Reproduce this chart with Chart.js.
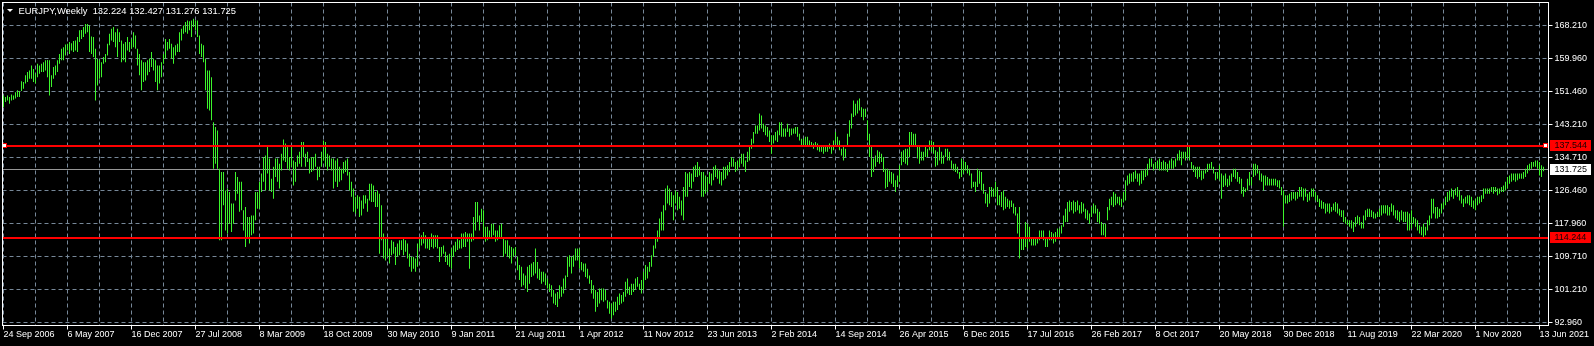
<!DOCTYPE html>
<html>
<head>
<meta charset="utf-8">
<title>EURJPY,Weekly</title>
<script src="https://cdn.jsdelivr.net/npm/chart.js@4.4.1/dist/chart.umd.min.js"></script>
<style>
  html, body { margin: 0; padding: 0; background: #000; overflow: hidden; }
  #chart { display: block; }
</style>
</head>
<body>
<canvas id="chart" width="1594" height="346"></canvas>
<script>
// EURJPY weekly bars

const symbolName = 'EURJPY,Weekly';
const lastBarOHLC = [132.224, 132.427, 131.276, 131.725];

// one date label every 32 weekly bars, bar 0 = 24 Sep 2006
const weekLabels = ['24 Sep 2006', '6 May 2007', '16 Dec 2007', '27 Jul 2008', '8 Mar 2009', '18 Oct 2009',
  '30 May 2010', '9 Jan 2011', '21 Aug 2011', '1 Apr 2012', '11 Nov 2012', '23 Jun 2013', '2 Feb 2014',
  '14 Sep 2014', '26 Apr 2015', '6 Dec 2015', '17 Jul 2016', '26 Feb 2017', '8 Oct 2017', '20 May 2018',
  '30 Dec 2018', '11 Aug 2019', '22 Mar 2020', '1 Nov 2020', '13 Jun 2021'];

const priceTicks = [168.21, 159.96, 151.46, 143.21, 134.71, 126.46, 117.96, 109.71, 101.21, 92.96];
const levelLines = [137.544, 114.244];
const bidPrice = 131.725;

const barHigh = [
  // 2006 - 2008
  150.5,150.1,150.5,150.1,150.7,150.5,151.3,151.8,151.6,154.1,
  153.9,155.6,156.4,156.8,158.1,157.2,156.0,158.5,158.1,158.5,
  158.9,159.4,159.5,159.4,155.6,157.7,158.1,159.4,161.0,162.3,
  162.7,163.4,163.6,164.0,163.7,164.3,164.4,165.3,167.0,167.1,
  167.8,168.6,168.6,168.2,165.4,165.3,162.3,159.8,159.4,158.9,
  160.2,161.0,163.6,166.1,167.4,167.8,166.5,167.4,166.5,164.4,
  163.6,164.0,165.3,164.0,164.8,166.5,165.7,162.3,161.0,159.4,
  158.9,158.9,159.4,159.8,161.5,159.8,159.4,158.1,158.1,158.9,
  161.0,164.8,164.0,164.8,163.6,162.7,163.2,163.6,166.5,167.4,
  168.2,169.1,169.5,169.3,169.5,169.9,169.5,169.5,165.7,163.6,
  163.2,159.8,156.8,156.8,155.1,143.7,142.5,141.6,131.9,131.1,
  // 2008 - 2010
  131.1,126.4,126.9,126.0,123.1,123.1,131.1,129.8,128.6,128.6,
  121.4,122.2,119.7,119.7,120.1,120.1,126.0,126.0,128.6,130.7,
  134.9,135.3,137.4,134.5,129.4,132.4,134.5,134.5,133.2,135.7,
  139.3,138.3,137.4,134.9,137.4,134.0,133.6,135.3,136.2,138.7,
  138.7,135.7,136.2,134.5,134.9,134.9,135.7,132.4,132.4,136.2,
  139.1,138.7,135.7,135.3,134.5,134.5,134.0,134.5,132.4,131.9,
  133.6,134.0,134.5,131.1,128.6,126.9,124.8,125.2,124.8,123.9,
  125.2,125.2,124.3,128.1,128.1,127.7,126.0,126.4,125.6,122.7,
  115.5,114.2,114.2,111.7,113.8,113.4,112.1,113.0,113.8,113.8,
  114.6,113.8,113.0,110.4,109.6,109.6,109.2,113.0,114.6,115.1,
  115.9,115.1,114.2,114.2,115.5,115.1,115.1,115.1,112.1,112.1,
  112.5,
  // 2010 - 2012
  110.9,110.0,110.4,111.7,112.5,113.4,114.2,113.8,115.5,115.5,
  115.9,115.5,115.5,115.5,119.7,123.5,123.5,120.1,121.8,121.4,
  117.2,117.2,116.3,118.0,118.0,116.3,116.3,117.6,118.0,114.6,
  113.8,113.8,112.5,112.1,111.7,112.1,109.6,107.5,107.1,105.4,
  104.9,107.1,107.5,107.9,108.3,111.7,108.3,106.6,105.8,105.8,
  105.4,104.1,102.8,102.4,101.2,100.3,100.7,102.4,102.0,104.1,
  104.9,109.6,110.0,109.6,110.0,111.7,111.7,111.7,108.3,107.9,
  107.9,106.6,104.9,103.7,102.4,101.2,100.7,101.6,101.6,101.6,
  101.2,98.6,98.2,97.8,98.2,98.2,99.5,100.3,99.9,100.7,
  103.3,104.1,102.0,102.8,102.8,104.1,104.5,102.8,103.7,105.8,
  107.5,107.1,108.3,110.0,112.5,114.6,116.3,119.3,121.0,122.7,126.9,
  // 2012 - 2015
  127.7,126.9,126.0,125.2,126.4,126.0,124.8,123.9,127.3,131.1,
  130.7,131.1,130.7,132.4,132.8,133.6,132.4,131.1,131.1,130.2,
  129.8,131.1,130.7,132.4,132.8,131.9,131.5,131.1,132.4,132.4,
  132.8,133.6,134.9,134.5,133.6,134.0,134.5,135.7,135.7,134.0,
  136.2,137.4,139.5,141.2,142.9,142.9,145.9,145.4,143.3,142.9,
  142.5,141.6,140.4,140.4,141.2,141.6,143.7,143.7,142.1,142.1,
  143.3,142.1,142.1,142.1,142.5,142.5,140.8,139.5,139.5,140.0,
  140.0,139.1,138.7,138.3,138.7,138.3,137.8,137.8,137.4,137.8,
  137.8,138.3,137.4,139.1,141.2,140.0,139.1,137.0,137.4,137.0,
  140.8,144.2,145.9,149.2,148.4,149.2,149.7,147.5,147.1,147.1,
  144.2,140.8,137.4,134.5,135.3,136.6,136.2,135.7,134.9,131.9,131.9,
  // 2015 - 2017
  131.5,131.1,130.7,129.0,130.2,132.8,136.2,136.6,137.0,137.0,
  141.2,141.2,140.8,140.8,137.8,137.4,136.2,136.2,137.4,137.0,
  139.1,139.1,138.7,136.6,136.2,137.4,136.2,135.3,137.0,137.0,
  136.2,134.0,133.2,133.2,132.4,131.1,134.5,134.0,133.6,132.8,
  131.9,130.7,128.6,128.6,131.9,131.5,131.1,128.1,126.0,125.6,
  127.3,127.3,126.9,128.6,127.3,125.2,126.0,126.4,124.8,124.3,
  123.9,123.9,123.1,122.2,120.6,122.2,114.6,114.6,118.4,118.0,
  117.2,114.6,114.2,114.6,114.6,116.3,116.3,116.3,114.2,114.6,
  116.3,115.9,115.5,115.9,116.8,116.8,117.6,120.1,121.8,123.5,
  123.9,123.5,123.9,123.5,123.9,122.7,123.5,123.1,121.8,121.4,
  120.6,122.2,123.1,122.7,121.8,121.0,118.4,118.0,118.0,122.2,124.3,
  // 2017 - 2019
  124.8,126.0,125.6,124.8,124.8,124.3,126.0,129.0,130.2,130.7,
  130.7,131.1,131.5,130.7,130.7,131.5,131.5,131.9,133.2,134.5,
  134.5,133.2,133.6,134.0,134.5,133.6,134.0,133.6,133.2,134.0,
  134.5,134.0,134.5,135.7,136.6,136.2,136.2,136.2,137.4,137.4,
  133.6,132.8,132.4,132.4,132.4,131.5,131.5,131.9,133.2,133.2,
  133.6,132.4,131.1,131.1,132.8,130.7,130.2,130.7,129.4,130.2,
  130.7,131.9,131.9,131.1,129.8,129.4,127.3,126.9,129.4,131.1,
  129.8,133.2,133.2,132.8,131.5,130.7,130.2,130.2,129.8,129.4,
  129.4,129.4,129.4,129.0,129.0,127.3,126.4,125.2,125.2,125.6,
  126.0,126.0,126.0,126.0,127.3,127.3,126.9,126.9,125.6,126.0,
  126.9,126.9,126.0,125.2,124.3,123.9,123.5,123.1,123.1,123.1,122.2,
  // 2019 - 2021
  123.1,123.5,123.1,121.8,121.4,121.4,119.7,118.9,118.9,118.9,
  118.4,119.7,120.1,119.7,118.4,120.1,121.4,121.8,121.8,121.4,
  121.0,120.6,121.0,121.8,122.7,122.7,122.7,122.7,122.2,123.1,
  122.7,121.4,121.4,121.0,121.4,121.0,121.0,121.0,120.6,121.4,
  119.7,119.3,118.9,117.6,117.2,118.0,117.2,118.9,120.1,124.3,
  124.3,122.2,122.2,121.8,123.1,123.5,124.8,126.0,126.4,126.9,
  126.4,126.9,127.3,126.4,125.2,124.3,124.8,125.2,125.2,124.8,
  123.9,124.3,124.8,124.8,125.2,126.9,126.9,126.9,126.9,127.3,
  127.3,127.3,126.9,126.9,127.3,127.7,128.6,129.8,130.2,130.7,
  130.7,130.7,130.7,130.7,130.7,131.1,131.9,132.8,133.2,133.6,
  133.6,134.0,134.0,133.6,132.8,132.427
];

const barLow = [
  // 2006 - 2008
  147.5,148.8,149.2,148.4,149.2,149.4,149.7,150.1,150.1,151.6,
  152.2,153.5,153.9,154.7,154.7,153.9,153.5,155.1,156.0,156.4,
  156.4,156.8,155.1,150.5,152.6,154.7,155.6,156.4,158.5,159.4,
  159.4,160.6,161.9,161.0,161.9,161.5,161.9,161.5,164.0,164.8,
  165.3,166.1,166.5,161.5,161.0,160.2,149.2,153.0,154.7,155.1,
  158.5,158.9,160.6,163.2,164.4,164.0,162.7,160.2,164.0,158.9,
  159.4,158.9,161.9,161.5,162.3,162.7,162.3,158.1,155.6,151.8,
  153.9,154.3,155.6,156.4,157.7,156.8,153.9,151.8,153.5,155.1,
  158.5,159.8,161.9,162.3,159.8,158.5,160.6,161.5,161.5,164.4,
  166.1,166.5,166.1,167.0,165.3,167.8,167.0,165.3,161.0,160.2,
  158.9,151.8,147.1,146.7,144.2,131.9,133.2,131.9,113.8,113.8,
  // 2008 - 2010
  122.7,116.3,115.5,118.0,115.9,118.0,123.9,125.6,121.0,121.4,
  116.3,112.1,114.6,113.0,115.1,115.5,118.9,121.8,121.8,126.0,
  128.6,126.4,130.7,126.4,126.0,124.3,129.8,128.6,126.9,131.5,
  134.0,133.6,131.9,131.5,132.4,127.7,128.6,132.4,133.2,132.4,
  134.9,132.4,133.6,130.7,131.1,131.5,132.4,129.0,129.8,132.4,
  134.0,132.4,131.5,132.4,131.5,126.9,128.6,127.3,128.6,129.0,
  130.7,131.1,130.2,126.4,124.8,121.0,120.6,121.8,119.7,120.1,
  121.8,123.1,121.0,123.9,123.5,123.5,122.2,122.2,110.4,113.8,
  109.2,108.7,109.6,107.9,110.0,110.4,107.5,109.6,110.0,111.3,
  110.0,110.9,109.2,107.1,105.8,106.6,105.8,107.1,111.7,112.5,
  113.0,111.7,111.7,111.3,112.1,111.7,112.1,111.7,108.3,109.6,
  110.4,
  // 2010 - 2012
  108.3,107.5,107.1,106.6,109.6,110.9,111.3,111.7,111.7,112.1,
  112.1,113.4,106.6,113.4,113.8,116.3,118.4,116.3,118.4,114.6,
  113.4,113.8,114.2,114.6,115.1,113.4,113.8,114.6,114.2,109.6,
  110.4,109.6,109.2,107.9,109.6,110.0,106.2,103.7,102.0,102.4,
  101.6,100.7,102.8,104.5,104.9,105.4,104.1,103.7,102.8,103.3,
  102.4,101.6,100.7,99.5,97.8,97.4,96.9,99.0,99.5,100.3,
  101.6,104.5,107.1,105.4,107.1,108.7,108.7,106.6,106.2,105.8,
  104.5,104.1,102.8,100.3,99.0,95.7,96.9,97.8,98.6,98.2,
  98.6,96.5,95.2,94.0,94.8,95.7,96.1,97.4,97.8,98.2,
  99.5,100.3,99.9,99.9,100.7,101.2,102.0,101.2,100.3,101.2,
  103.7,104.1,105.8,107.1,109.6,111.7,113.4,114.6,116.3,116.3,121.4,
  // 2012 - 2015
  123.1,122.7,122.2,118.9,123.1,121.4,121.8,120.1,118.9,124.8,
  124.8,127.3,126.9,128.6,129.8,129.8,130.2,124.8,124.8,125.6,
  126.0,128.1,127.7,129.0,129.8,129.4,128.1,127.7,129.0,129.4,
  130.2,131.1,132.4,132.4,131.1,131.5,132.4,133.2,132.4,131.1,
  133.6,134.0,137.0,138.3,140.8,140.8,141.6,142.1,141.2,140.4,
  140.0,138.7,135.7,138.3,139.1,138.7,140.4,140.0,140.0,140.0,
  141.2,140.0,140.4,140.8,140.8,140.0,139.1,137.8,137.8,137.4,
  137.8,137.8,137.4,137.0,137.4,136.6,136.2,136.2,135.7,136.2,
  136.2,137.0,135.7,136.6,138.3,137.4,136.6,135.3,134.0,134.9,
  137.4,140.0,142.1,145.0,145.4,145.9,146.7,145.0,144.2,145.0,
  139.1,134.9,129.8,131.1,132.4,133.6,133.2,133.6,131.1,126.9,127.3,
  // 2015 - 2017
  128.6,128.1,127.3,126.0,127.3,128.6,132.8,133.6,133.2,132.8,
  134.9,137.4,137.4,137.8,134.5,133.2,134.0,134.0,134.9,134.9,
  136.6,136.2,135.7,132.4,132.8,134.0,133.2,133.2,134.9,134.0,
  134.0,131.9,131.5,131.1,130.7,129.4,129.8,130.7,131.5,130.7,
  130.2,126.9,127.3,126.0,127.3,128.1,126.4,125.6,123.1,122.2,
  123.1,124.8,124.8,124.8,122.7,122.7,122.2,121.4,121.8,122.2,
  121.8,122.2,120.6,120.1,115.5,109.2,111.3,111.3,112.1,111.7,
  113.4,112.5,112.5,112.5,113.0,113.8,114.2,113.8,112.1,112.1,
  113.8,113.8,113.0,113.4,114.2,114.2,115.5,117.2,118.4,118.4,
  121.0,121.4,120.6,121.0,121.4,120.6,120.6,121.0,119.3,118.9,
  118.0,119.7,120.6,120.6,118.4,118.0,115.1,115.1,114.6,118.9,121.4,
  // 2017 - 2019
  122.7,122.2,122.7,123.1,122.7,122.2,123.5,123.9,127.7,128.1,
  128.6,128.6,129.4,128.6,127.7,128.1,129.0,129.8,130.2,131.9,
  132.4,131.5,131.9,131.9,131.5,131.5,131.5,131.5,131.1,131.9,
  131.9,131.9,132.4,134.0,134.0,132.8,134.5,134.0,134.5,134.0,
  131.9,131.1,129.8,129.4,129.8,129.0,129.4,130.7,131.1,131.9,
  131.9,130.7,129.0,129.4,129.0,124.3,127.3,127.7,127.3,127.7,
  128.6,129.8,129.4,128.6,128.1,125.6,124.8,126.0,126.4,127.7,
  127.7,129.8,130.2,130.7,129.0,128.6,126.4,127.7,127.7,127.7,
  127.7,127.7,127.7,127.3,126.9,125.2,117.2,123.1,123.1,123.5,
  123.9,124.3,123.9,124.3,124.8,124.8,123.9,124.8,123.5,123.9,
  124.8,124.8,123.9,123.5,122.2,121.8,121.8,120.6,121.0,120.6,121.0,
  // 2019 - 2021
  121.4,121.0,120.6,120.1,119.7,118.4,118.0,117.6,117.2,116.8,
  115.9,117.2,118.0,117.6,116.8,116.8,118.9,119.7,119.7,119.7,
  119.3,119.3,119.7,119.7,120.1,120.6,120.6,120.1,120.1,121.0,
  120.1,119.3,118.9,118.4,118.9,118.4,118.4,116.3,116.3,116.8,
  118.0,117.2,116.3,115.5,115.1,114.6,115.1,116.3,117.6,119.3,
  120.6,119.3,119.3,119.7,120.6,121.8,122.7,123.5,123.9,124.8,
  124.3,125.2,124.8,123.9,123.1,122.2,123.1,123.1,122.7,122.2,
  121.8,121.4,122.7,123.1,123.5,124.3,125.6,125.6,125.6,126.0,
  125.6,126.0,125.2,125.6,126.0,126.0,126.4,126.9,128.1,128.6,
  129.0,128.6,129.0,129.4,129.4,129.4,129.8,130.7,131.5,131.9,
  132.4,132.4,131.9,130.2,129.8,131.276
];

const barsPerGrid = 16;
const barsPerLabel = 32;
const priceTop = 174.037, priceBottom = 92.203;
const fontFamily = '"Liberation Sans", Arial, sans-serif';
const barColor = '#3cf52c';
const gridColor = '#778899';

const barCount = Math.min(barHigh.length, barLow.length);
const bars = [];
for (let i = 0; i < barCount; i++) {
  bars.push({ x: i, y: [barLow[i], barHigh[i]] });
}

const gridBars = [];
for (let i = 0; i <= (weekLabels.length - 1) * barsPerLabel; i += barsPerGrid) gridBars.push(i);

function levelY(scale, price) {
  return Math.floor(scale.getPixelForValue(price));
}

function priceBox(ctx, top, price, fill, textColor) {
  ctx.fillStyle = fill;
  ctx.fillRect(1550, top, 41, 11);
  ctx.fillStyle = textColor;
  ctx.textAlign = 'left';
  ctx.textBaseline = 'middle';
  ctx.fillText(price.toFixed(3), 1554.5, top + 5.5);
}

const terminalDecor = {
  id: 'terminalDecor',
  beforeDatasetsDraw(chart) {
    const { ctx, chartArea: a, scales: { y } } = chart;
    const py = levelY(y, bidPrice) + 0.5;
    ctx.save();
    ctx.strokeStyle = '#969696';
    ctx.lineWidth = 1;
    ctx.beginPath();
    ctx.moveTo(a.left, py);
    ctx.lineTo(a.right, py);
    ctx.stroke();
    ctx.restore();
  },
  afterDatasetsDraw(chart) {
    const { ctx, chartArea: a, scales: { y } } = chart;
    ctx.save();
    ctx.strokeStyle = '#ff0000';
    ctx.lineWidth = 2;
    levelLines.forEach(v => {
      const py = levelY(y, v);
      ctx.beginPath();
      ctx.moveTo(a.left, py);
      ctx.lineTo(a.right, py);
      ctx.stroke();
    });
    // selection handles of the first level line
    const hy = levelY(y, levelLines[0]) - 3;
    [a.left - 0.5, a.right - 5.5].forEach(hx => {
      ctx.fillStyle = '#ff0000';
      ctx.fillRect(hx, hy, 5, 5);
      ctx.fillStyle = '#ffffff';
      ctx.fillRect(hx + 1, hy + 1, 3, 3);
    });
    ctx.restore();
  },
  afterDraw(chart) {
    const { ctx, chartArea: a, scales: { y } } = chart;
    ctx.save();
    ctx.strokeStyle = '#ffffff';
    ctx.lineWidth = 1;
    ctx.strokeRect(a.left, a.top, a.right - a.left, a.bottom - a.top);

    ctx.font = '9px ' + fontFamily;
    levelLines.forEach(v => priceBox(ctx, levelY(y, v) - 6, v, '#ff0000', '#1a0000'));
    priceBox(ctx, levelY(y, bidPrice) - 5, bidPrice, '#ffffff', '#000000');

    // symbol header
    ctx.fillStyle = '#ffffff';
    ctx.beginPath();
    ctx.moveTo(7, 9);
    ctx.lineTo(13, 9);
    ctx.lineTo(10, 12);
    ctx.closePath();
    ctx.fill();
    ctx.font = '9.4px ' + fontFamily;
    ctx.textAlign = 'left';
    ctx.textBaseline = 'middle';
    ctx.fillText(symbolName + '  ' + lastBarOHLC.map(v => v.toFixed(3)).join(' '), 18.5, 11);
    ctx.restore();
  }
};

Chart.defaults.font.family = fontFamily;
Chart.defaults.font.size = 9;
Chart.defaults.color = '#ffffff';

new Chart(document.getElementById('chart'), {
  type: 'bar',
  data: {
    datasets: [{
      data: bars,
      backgroundColor: barColor,
      borderWidth: 0,
      barThickness: 1,
      inflateAmount: 0
    }]
  },
  options: {
    responsive: false,
    devicePixelRatio: 1,
    animation: false,
    layout: { padding: { left: 2.5, top: 2.5, right: 0, bottom: 0 } },
    plugins: { legend: { display: false }, tooltip: { enabled: false }, title: { display: false } },
    scales: {
      x: {
        type: 'linear',
        offset: false,
        min: -0.5,
        max: 772.5,
        afterBuildTicks: scale => { scale.ticks = gridBars.map(v => ({ value: v })); },
        afterFit: scale => { scale.height = 20.5; scale.paddingLeft = 0; scale.paddingRight = 0; },
        grid: {
          offset: false,
          color: gridColor,
          lineWidth: 1,
          tickLength: 4,
          tickColor: c => (c.tick && c.tick.value % barsPerLabel === 0) ? '#ffffff' : 'rgba(0,0,0,0)'
        },
        border: { display: false, dash: [4, 3] },
        ticks: {
          autoSkip: false,
          maxRotation: 0,
          minRotation: 0,
          align: 'start',
          padding: 0,
          color: '#ffffff',
          callback: v => v % barsPerLabel === 0 ? weekLabels[v / barsPerLabel] : ''
        }
      },
      y: {
        type: 'linear',
        position: 'right',
        min: priceBottom,
        max: priceTop,
        afterBuildTicks: scale => { scale.ticks = priceTicks.map(v => ({ value: v })); },
        afterFit: scale => { scale.width = 45.5; scale.paddingTop = 0; scale.paddingBottom = 0; },
        grid: { color: gridColor, lineWidth: 1, tickLength: 4, tickColor: '#ffffff' },
        border: { display: false, dash: [4, 3] },
        ticks: {
          autoSkip: false,
          padding: 2,
          color: '#ffffff',
          callback: v => Number(v).toFixed(3)
        }
      }
    }
  },
  plugins: [terminalDecor]
});
</script>
</body>
</html>
